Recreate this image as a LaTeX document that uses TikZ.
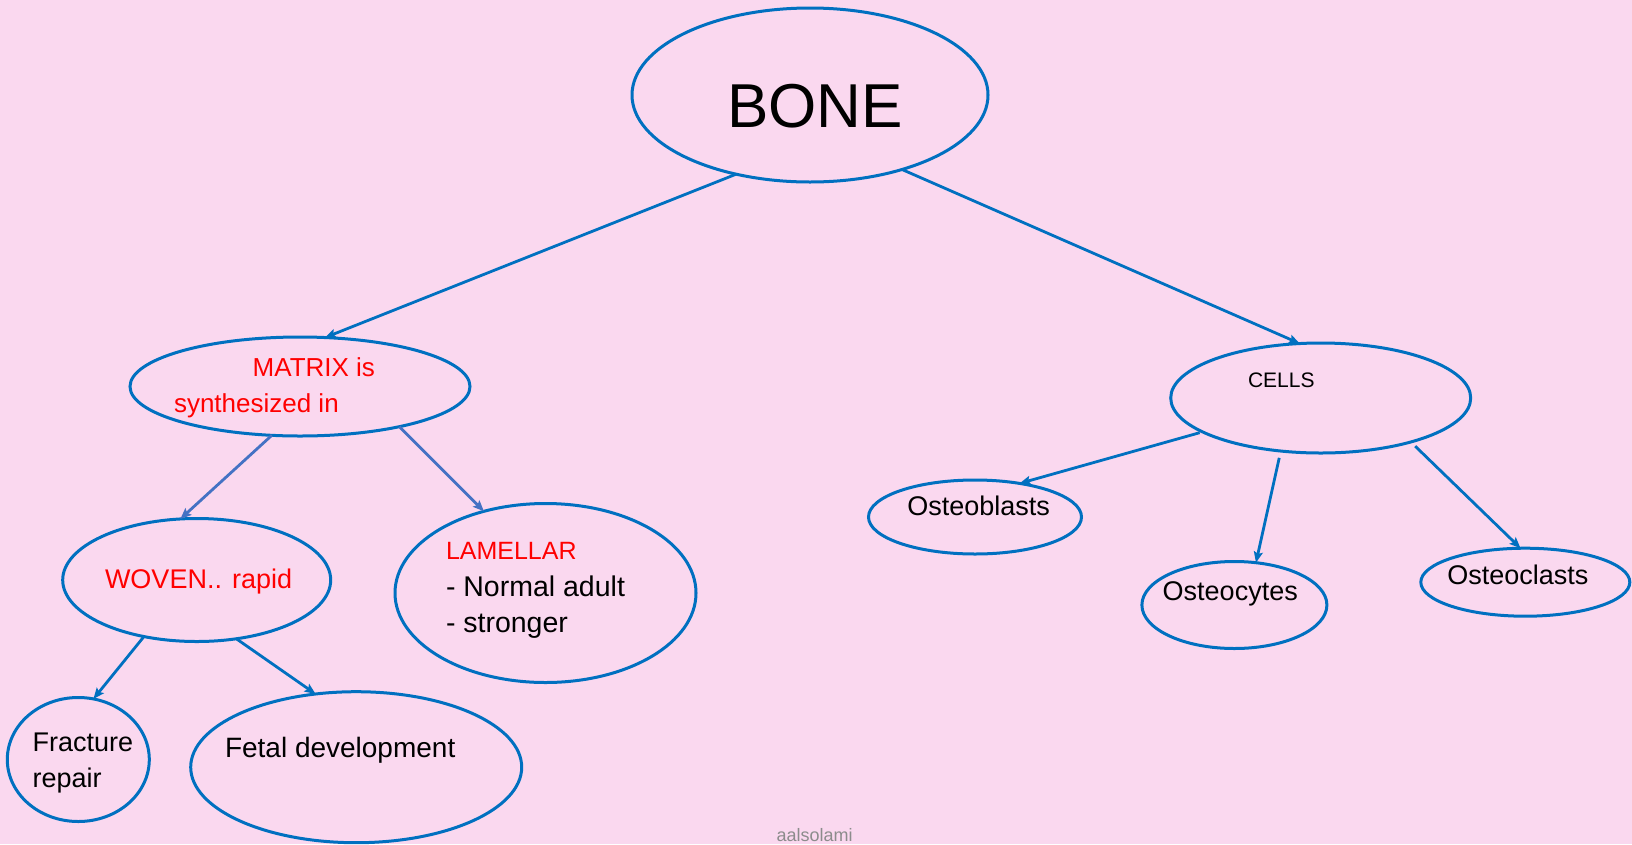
\documentclass[tikz,border=0pt]{standalone}
\usepackage{fontspec}
\setmainfont{Liberation Sans}
\usetikzlibrary{shapes.geometric,arrows.meta}
\definecolor{bgpink}{HTML}{FAD8EF}
\definecolor{ringblue}{HTML}{0070C0}
\definecolor{softblue}{HTML}{4472C4}
\definecolor{txtred}{HTML}{FF0000}
\definecolor{signgray}{HTML}{8C8C8C}
\begin{document}
\begin{tikzpicture}[x=1pt,y=-1pt,
  oval/.style={ellipse,draw=ringblue,line width=3pt,inner sep=0pt,outer sep=0pt},
  lbl/.style={inner sep=0pt,outer sep=0pt,anchor=base west},
  link/.style={draw=ringblue,line width=2.8pt,-{Stealth[length=11pt,width=9pt,inset=2pt]}},
  softlink/.style={link,draw=softblue},
]
\fill[bgpink] (0,0) rectangle (1632,844);
\useasboundingbox (0,0) rectangle (1632,844);

% ellipses
\node[oval,minimum width=356pt,minimum height=174pt] (bone) at (810,95) {};
\node[oval,minimum width=340pt,minimum height=99pt] (matrix) at (300,386.5) {};
\node[oval,minimum width=300pt,minimum height=110pt] (cells) at (1320.7,398) {};
\node[oval,minimum width=268pt,minimum height=123pt] (woven) at (196.7,580) {};
\node[oval,minimum width=301pt,minimum height=179pt] (lamellar) at (545.5,593) {};
\node[oval,minimum width=142pt,minimum height=124pt] (fracture) at (78.3,759.5) {};
\node[oval,minimum width=331pt,minimum height=151pt] (fetal) at (356.2,767.2) {};
\node[oval,minimum width=213pt,minimum height=74pt] (oblasts) at (975,517) {};
\node[oval,minimum width=185pt,minimum height=87pt] (ocytes) at (1234.4,605) {};
\node[oval,minimum width=209pt,minimum height=68pt] (oclasts) at (1525.3,582.2) {};

% texts
\node[inner sep=0pt,anchor=base,font=\fontsize{62}{70}\selectfont] (tbone) at (815,127) {BONE};
\node[lbl,text=txtred,font=\fontsize{26}{30}\selectfont] (tmatrix1) at (252.7,376.7) {MATRIX is};
\node[lbl,text=txtred,font=\fontsize{26}{30}\selectfont] (tmatrix2) at (174,412.7) {synthesized in};
\node[lbl,font=\fontsize{21}{25}\selectfont] (tcells) at (1248,387.7) {CELLS};
\node[lbl,font=\fontsize{27}{31}\selectfont] (toblasts) at (907.3,515) {Osteoblasts};
\node[lbl,font=\fontsize{27}{31}\selectfont] (tocytes) at (1162.7,600.7) {Osteocytes};
\node[lbl,font=\fontsize{27}{31}\selectfont] (toclasts) at (1447.3,584) {Osteoclasts};
\node[lbl,text=txtred,font=\fontsize{27}{31}\selectfont] (twoven) at (105,588.3) {WOVEN.. rapid};
\node[lbl,text=txtred,font=\fontsize{25}{29}\selectfont] (tlam1) at (446,559.3) {LAMELLAR};
\node[lbl,font=\fontsize{28.5}{32}\selectfont] (tlam2) at (446,596) {- Normal adult};
\node[lbl,font=\fontsize{28.5}{32}\selectfont] (tlam3) at (446,632.7) {- stronger};
\node[lbl,font=\fontsize{27}{31}\selectfont] (tfrac1) at (32.7,751) {Fracture};
\node[lbl,font=\fontsize{27}{31}\selectfont] (tfrac2) at (32.7,787.7) {repair};
\node[lbl,font=\fontsize{28}{32}\selectfont] (tfetal) at (225,757.3) {Fetal development};
\node[lbl,text=signgray,font=\fontsize{18}{21}\selectfont] (tsign) at (776.7,841) {aalsolami};

% connectors
\draw[link] (bone.227.6) -- (matrix.63.7);
\draw[link] (bone.321.8) -- (cells.111);
\draw[softlink] (matrix.240.7) -- (woven.105.2);
\draw[softlink] (matrix.338.6) -- (lamellar.127.6);
\draw[link] (woven.227.1) -- (fracture.76.6);
\draw[link] (woven.304.3) -- (fetal.119.8);
\draw[link,shorten <=3pt] (cells.196.7) -- (oblasts.37.3);
\draw[link,shorten <=7pt] (cells.233.5) -- (ocytes.63.5);
\draw[link,shorten <=6pt] (cells.334.3) -- (oclasts.98.9);
\end{tikzpicture}
\end{document}
